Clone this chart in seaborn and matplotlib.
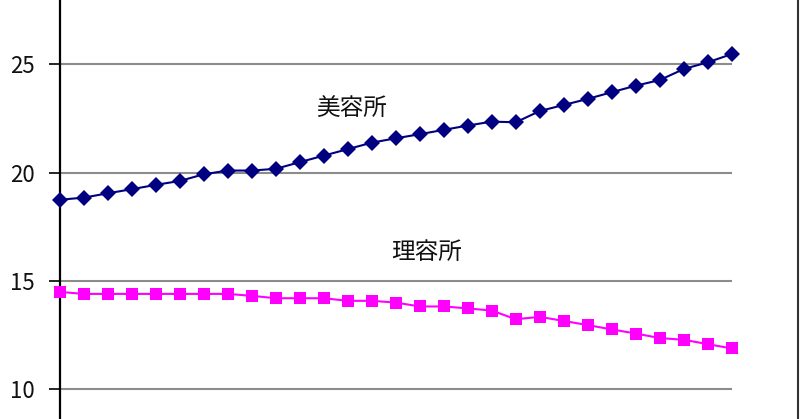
import numpy as np
import pandas as pd
import seaborn as sns
import matplotlib.pyplot as plt
from matplotlib.lines import Line2D

# 値
biyo = [18.75, 18.85, 19.05, 19.24, 19.44, 19.62, 19.93, 20.10, 20.10, 20.18,
        20.49, 20.79, 21.09, 21.39, 21.59, 21.78, 21.98, 22.18, 22.36, 22.33,
        22.85, 23.13, 23.41, 23.72, 24.02, 24.28, 24.79, 25.10, 25.48]
riyo = [14.49, 14.40, 14.40, 14.40, 14.40, 14.40, 14.40, 14.40, 14.31, 14.20,
        14.20, 14.20, 14.08, 14.08, 14.00, 13.82, 13.82, 13.73, 13.63, 13.23,
        13.34, 13.15, 12.96, 12.76, 12.57, 12.36, 12.28, 12.08, 11.88]
y_ticks = [10, 15, 20, 25]

sns.set_style("white")
plt.rcParams['font.family'] = ['Noto Sans CJK JP', 'DejaVu Sans']

n = len(biyo)
df = pd.DataFrame({
    "x": list(range(n)) * 2,
    "値": biyo + riyo,
    "種類": ["美容所"] * n + ["理容所"] * n,
})

fig = plt.figure(figsize=(8, 4.19), dpi=100)
ax = fig.add_axes([0.075, 0.0, 0.8396, 1.0])

sns.lineplot(data=df, x="x", y="値", hue="種類", style="種類",
             palette={"美容所": "#000080", "理容所": "#FF00FF"},
             markers={"美容所": "D", "理容所": "s"}, dashes=False,
             markersize=8, markeredgewidth=0, linewidth=1.5,
             legend=False, ax=ax, zorder=3)
for ln in ax.lines:
    ln.set_clip_on(False)

ax.set_xlim(0, n - 1)
ax.set_ylim(8.62, 27.98)
ax.set_yticks(y_ticks)
ax.set_xticks([])
ax.set_xlabel("")
ax.set_ylabel("")
ax.grid(axis="y", color="#8c8c8c", linewidth=1.5)
ax.tick_params(axis="y", direction="out", length=8, width=1.2, color="black",
               labelsize=16, labelcolor="#111111", pad=10, left=True)
for s in ["top", "right", "bottom"]:
    ax.spines[s].set_visible(False)
ax.spines["left"].set_color("black")
ax.spines["left"].set_linewidth(1.6)

ax.text(12.15, 22.99, "美容所", fontsize=17, ha="center", va="center", color="#111111")
ax.text(15.3, 16.32, "理容所", fontsize=17, ha="center", va="center", color="#111111")

fig.add_artist(Line2D([0.997, 0.997], [0, 1], transform=fig.transFigure,
                      color="#333333", linewidth=1.5))

fig.savefig("out.png", dpi=100)
